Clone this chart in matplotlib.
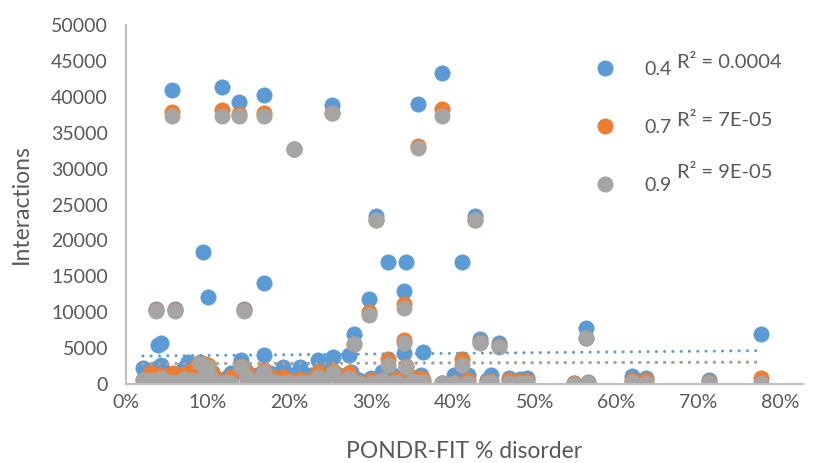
import numpy as np
import matplotlib
matplotlib.use('Agg')
import matplotlib.pyplot as plt
from matplotlib.ticker import PercentFormatter

# PONDR-FIT % disorder (fraction) for each protein
disorder = [0.0207, 0.0217, 0.029, 0.0342, 0.0362, 0.0388, 0.0424, 0.043, 0.0487, 0.0564,
            0.0575, 0.060, 0.0642, 0.0704, 0.0756, 0.0807, 0.0859, 0.0911, 0.0937, 0.0968,
            0.1009, 0.1046, 0.1087, 0.117, 0.1222, 0.1284, 0.1387, 0.1408, 0.1449, 0.147,
            0.1532, 0.1604, 0.1682, 0.1682, 0.1687, 0.176, 0.1822, 0.1915, 0.1988, 0.205,
            0.2122, 0.2174, 0.2257, 0.235, 0.2412, 0.2515, 0.2536, 0.2609, 0.2722, 0.2754,
            0.279, 0.2847, 0.2971, 0.3002, 0.3059, 0.3126, 0.3199, 0.3261, 0.3313, 0.3406,
            0.3406, 0.3427, 0.3494, 0.3568, 0.3613, 0.3637, 0.3861, 0.387, 0.4006, 0.411,
            0.4182, 0.4265, 0.4327, 0.441, 0.4462, 0.456, 0.4679, 0.4824, 0.4907, 0.5476,
            0.5631, 0.5652, 0.619, 0.6356, 0.7132, 0.7764]

# interactions at confidence 0.4
inter_04 = [2200, 800, 1200, 2100, 10500, 5450, 5700, 2700, 1500, 41000,
            1400, 10450, 900, 2200, 3100, 2300, 1800, 2600, 18450, 1900,
            12100, 1700, 900, 41300, 800, 1500, 39300, 3400, 10400, 1800,
            600, 1200, 14000, 4100, 40200, 1600, 900, 2400, 1300, 32700,
            2400, 800, 1200, 3350, 2600, 38900, 3800, 1300, 4100, 1700,
            6950, 600, 11850, 800, 23400, 1700, 17050, 1200, 800, 12900,
            4300, 17050, 900, 38950, 1200, 4500, 200, 43300, 1300, 17050,
            1300, 23400, 6300, 600, 1250, 5650, 800, 700, 800, 200,
            7800, 300, 1100, 900, 500, 7000]

# interactions at confidence 0.7
inter_07 = [600, 300, 1500, 1400, 10300, 800, 1300, 1200, 900, 37900,
            1600, 10250, 600, 1400, 1200, 1800, 2500, 3000, 1600, 2800,
            2700, 1500, 900, 38100, 400, 1000, 37600, 2500, 10250, 1700,
            500, 800, 2000, 1200, 37800, 1100, 700, 1000, 500, 32700,
            700, 400, 600, 1700, 900, 37800, 1800, 700, 1500, 600,
            5600, 300, 10000, 500, 22900, 600, 3550, 400, 700, 11150,
            6150, 2500, 1000, 33200, 900, 600, 150, 38300, 300, 3550,
            500, 22900, 5900, 300, 400, 5300, 500, 400, 400, 100,
            6400, 200, 600, 500, 300, 800]

# interactions at confidence 0.9
inter_09 = [500, 200, 600, 500, 10200, 400, 800, 300, 400, 37350,
            300, 10200, 200, 700, 300, 500, 400, 2900, 900, 2500,
            2300, 700, 300, 37300, 300, 200, 37300, 2400, 10200, 1000,
            200, 400, 1700, 600, 37300, 400, 300, 200, 300, 32700,
            300, 100, 300, 1000, 400, 37800, 1500, 300, 900, 300,
            5550, 200, 9550, 200, 22850, 500, 2650, 200, 300, 10650,
            5700, 2400, 400, 32800, 300, 300, 100, 37350, 200, 2650,
            200, 22850, 5650, 200, 300, 5200, 200, 200, 200, 50,
            6350, 100, 300, 200, 200, 200]

series_names = ['0.4', '0.7', '0.9']
r2_labels = ['R² = 0.0004', 'R² = 7E-05', 'R² = 9E-05']
# linear trendline values at the first and last disorder value
trend_04 = [3900, 4640]
trend_07 = [2830, 3060]
trend_09 = [2800, 3040]

colors = ['#5B9BD5', '#ED7D31', '#A5A5A5']
plt.rcParams['font.family'] = ['Lato', 'DejaVu Sans']
text_color = '#595959'

fig = plt.figure(figsize=(8.26, 4.63), dpi=100)
ax = fig.add_axes([126/826, 1 - 384/463, 677/826, 359/463])

x = np.array(disorder)
handles = []
for ys, c, name in zip([inter_04, inter_07, inter_09], colors, series_names):
    h, = ax.plot(x, ys, linestyle='none', marker='o', markersize=11,
                 markerfacecolor=c, markeredgecolor=c, markeredgewidth=0.5,
                 label=name, zorder=2)
    handles.append(h)

trend_x = [x.min(), x.max()]
for tr, c in zip([trend_04, trend_07, trend_09], colors):
    ax.plot(trend_x, tr, color=c, linewidth=2.2, linestyle=(0, (0.01, 2.7)),
            dash_capstyle='round', zorder=3)

ax.set_xlim(0, 0.828)
ax.set_ylim(0, 50000)
ax.set_xticks(np.arange(0, 0.81, 0.1))
ax.set_yticks(np.arange(0, 50001, 5000))
ax.xaxis.set_major_formatter(PercentFormatter(1.0, decimals=0))
ax.tick_params(axis='both', length=0, labelsize=14, colors=text_color)
ax.tick_params(axis='y', pad=13)
ax.tick_params(axis='x', pad=7)
for s in ['top', 'right']:
    ax.spines[s].set_visible(False)
for s in ['left', 'bottom']:
    ax.spines[s].set_color('#BFBFBF')
    ax.spines[s].set_linewidth(1.5)

ax.set_xlabel('PONDR-FIT % disorder', fontsize=16.5, color=text_color, labelpad=22)
ax.set_ylabel('Interactions', fontsize=16.5, color=text_color, labelpad=14)

leg = fig.legend(handles=handles, loc='upper left', bbox_to_anchor=(586/826, 1 - 61/463),
                 frameon=False, fontsize=14, handlelength=2, handletextpad=1.0,
                 labelspacing=2.1, borderpad=0, borderaxespad=0)
for t in leg.get_texts():
    t.set_color(text_color)

r2_y = [62, 121, 173]
for lab, yy in zip(r2_labels, r2_y):
    fig.text(677/826, 1 - yy/463, lab, fontsize=14.5, color=text_color, va='center', ha='left')

fig.savefig('out.png', dpi=100)
